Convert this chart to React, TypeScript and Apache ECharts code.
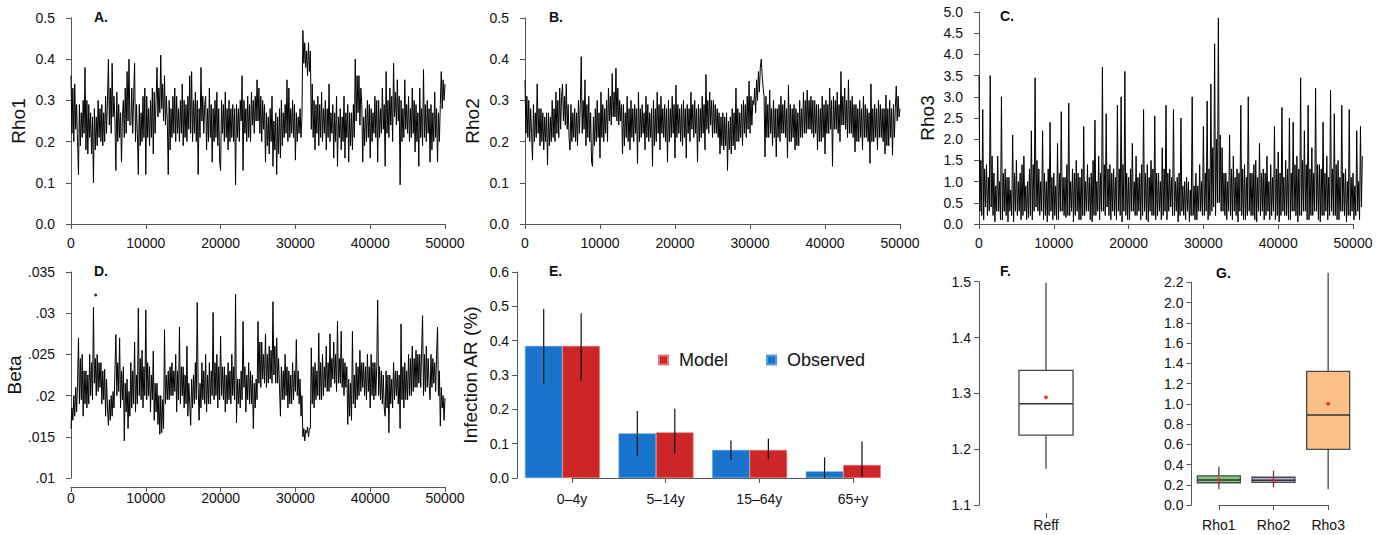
import React, { useEffect, useRef } from 'react';
import * as echarts from 'echarts';

const FONT = '"Liberation Sans", Arial, Helvetica, sans-serif';

// ---------- DATA ----------
const ITER_STEP = 125;

const rho1Trace = [
  0.36, 0.22, 0.33, 0.20, 0.34, 0.23, 0.29, 0.20, 0.12, 0.29, 0.19, 0.27, 0.21, 0.30, 0.22, 0.38,
  0.18, 0.30, 0.17, 0.29, 0.21, 0.27, 0.17, 0.26, 0.10, 0.28, 0.18, 0.26, 0.19, 0.30, 0.21, 0.28,
  0.20, 0.29, 0.19, 0.27, 0.20, 0.31, 0.22, 0.30, 0.40, 0.24, 0.33, 0.22, 0.39, 0.26, 0.31, 0.25,
  0.13, 0.32, 0.20, 0.29, 0.21, 0.27, 0.15, 0.26, 0.30, 0.21, 0.33, 0.22, 0.37, 0.25, 0.40, 0.24,
  0.24, 0.33, 0.22, 0.31, 0.39, 0.20, 0.29, 0.22, 0.12, 0.29, 0.19, 0.27, 0.20, 0.31, 0.21, 0.33,
  0.12, 0.31, 0.21, 0.28, 0.19, 0.30, 0.21, 0.33, 0.17, 0.32, 0.22, 0.30, 0.38, 0.26, 0.33, 0.27,
  0.41, 0.28, 0.34, 0.25, 0.36, 0.24, 0.31, 0.25, 0.12, 0.30, 0.18, 0.28, 0.21, 0.31, 0.22, 0.33,
  0.20, 0.31, 0.22, 0.28, 0.20, 0.30, 0.22, 0.34, 0.19, 0.30, 0.21, 0.29, 0.20, 0.31, 0.23, 0.36,
  0.22, 0.37, 0.20, 0.30, 0.22, 0.32, 0.20, 0.30, 0.12, 0.28, 0.21, 0.38, 0.25, 0.31, 0.22, 0.29,
  0.31, 0.18, 0.28, 0.20, 0.33, 0.21, 0.29, 0.15, 0.28, 0.20, 0.30, 0.21, 0.32, 0.19, 0.28, 0.15,
  0.13, 0.30, 0.22, 0.29, 0.20, 0.32, 0.21, 0.28, 0.18, 0.30, 0.20, 0.28, 0.21, 0.29, 0.20, 0.28,
  0.095, 0.29, 0.21, 0.28, 0.20, 0.30, 0.25, 0.36, 0.13, 0.30, 0.22, 0.28, 0.20, 0.31, 0.21, 0.29,
  0.20, 0.32, 0.24, 0.30, 0.22, 0.31, 0.25, 0.35, 0.25, 0.33, 0.22, 0.31, 0.20, 0.30, 0.23, 0.29,
  0.15, 0.27, 0.19, 0.26, 0.17, 0.28, 0.20, 0.31, 0.14, 0.25, 0.18, 0.27, 0.12, 0.26, 0.17, 0.28,
  0.16, 0.30, 0.19, 0.27, 0.21, 0.29, 0.22, 0.35, 0.20, 0.33, 0.21, 0.28, 0.22, 0.30, 0.21, 0.29,
  0.155, 0.27, 0.20, 0.26, 0.22, 0.28, 0.21, 0.26, 0.47, 0.39, 0.44, 0.38, 0.42, 0.36, 0.44, 0.37,
  0.42, 0.23, 0.34, 0.21, 0.30, 0.18, 0.29, 0.22, 0.31, 0.19, 0.29, 0.21, 0.32, 0.20, 0.28, 0.22,
  0.30, 0.18, 0.28, 0.21, 0.34, 0.20, 0.27, 0.22, 0.29, 0.16, 0.27, 0.20, 0.31, 0.14, 0.26, 0.21,
  0.28, 0.18, 0.26, 0.20, 0.31, 0.16, 0.27, 0.21, 0.29, 0.15, 0.27, 0.19, 0.27, 0.18, 0.29, 0.21,
  0.40, 0.25, 0.36, 0.27, 0.36, 0.24, 0.33, 0.29, 0.15, 0.26, 0.19, 0.28, 0.20, 0.30, 0.21, 0.29,
  0.16, 0.28, 0.20, 0.27, 0.22, 0.31, 0.21, 0.30, 0.15, 0.30, 0.21, 0.28, 0.22, 0.33, 0.23, 0.29,
  0.14, 0.37, 0.22, 0.30, 0.21, 0.33, 0.24, 0.31, 0.20, 0.39, 0.26, 0.32, 0.24, 0.35, 0.25, 0.31,
  0.095, 0.30, 0.20, 0.28, 0.21, 0.35, 0.23, 0.29, 0.22, 0.31, 0.20, 0.28, 0.21, 0.33, 0.22, 0.30,
  0.175, 0.29, 0.20, 0.27, 0.14, 0.33, 0.21, 0.28, 0.19, 0.375, 0.21, 0.29, 0.20, 0.30, 0.22, 0.28,
  0.15, 0.29, 0.18, 0.27, 0.20, 0.32, 0.21, 0.28, 0.15, 0.27, 0.20, 0.29, 0.37, 0.28, 0.35, 0.30,
  0.34,
];

const rho2Trace = [
  0.35, 0.22, 0.31, 0.21, 0.30, 0.20, 0.28, 0.22, 0.155, 0.29, 0.20, 0.27, 0.21, 0.34, 0.22, 0.28,
  0.19, 0.28, 0.20, 0.27, 0.18, 0.26, 0.20, 0.27, 0.143, 0.27, 0.19, 0.26, 0.20, 0.30, 0.21, 0.28,
  0.20, 0.32, 0.22, 0.30, 0.21, 0.33, 0.23, 0.31, 0.34, 0.25, 0.31, 0.24, 0.34, 0.23, 0.29, 0.21,
  0.18, 0.29, 0.20, 0.27, 0.21, 0.28, 0.20, 0.27, 0.19, 0.30, 0.22, 0.29, 0.406, 0.22, 0.30, 0.23,
  0.35, 0.19, 0.29, 0.21, 0.31, 0.20, 0.27, 0.15, 0.14, 0.26, 0.19, 0.28, 0.20, 0.30, 0.21, 0.27,
  0.16, 0.32, 0.21, 0.29, 0.20, 0.28, 0.22, 0.30, 0.20, 0.33, 0.25, 0.31, 0.24, 0.365, 0.26, 0.32,
  0.26, 0.378, 0.25, 0.33, 0.24, 0.30, 0.25, 0.29, 0.17, 0.29, 0.19, 0.27, 0.21, 0.31, 0.20, 0.28,
  0.18, 0.30, 0.21, 0.28, 0.20, 0.29, 0.22, 0.28, 0.147, 0.32, 0.20, 0.28, 0.21, 0.29, 0.22, 0.27,
  0.18, 0.31, 0.21, 0.29, 0.20, 0.27, 0.21, 0.28, 0.14, 0.30, 0.19, 0.28, 0.20, 0.32, 0.22, 0.29,
  0.18, 0.31, 0.22, 0.28, 0.21, 0.29, 0.20, 0.28, 0.15, 0.30, 0.20, 0.28, 0.21, 0.31, 0.22, 0.29,
  0.16, 0.337, 0.21, 0.29, 0.22, 0.28, 0.20, 0.29, 0.19, 0.30, 0.21, 0.28, 0.16, 0.29, 0.22, 0.28,
  0.20, 0.32, 0.23, 0.29, 0.21, 0.30, 0.22, 0.28, 0.15, 0.29, 0.20, 0.28, 0.21, 0.31, 0.22, 0.29,
  0.18, 0.363, 0.23, 0.30, 0.22, 0.32, 0.24, 0.30, 0.21, 0.30, 0.22, 0.29, 0.22, 0.28, 0.21, 0.27,
  0.17, 0.26, 0.19, 0.27, 0.18, 0.26, 0.19, 0.27, 0.13, 0.25, 0.18, 0.26, 0.17, 0.28, 0.19, 0.27,
  0.18, 0.33, 0.20, 0.28, 0.20, 0.27, 0.21, 0.29, 0.19, 0.30, 0.22, 0.29, 0.21, 0.31, 0.23, 0.347,
  0.22, 0.31, 0.24, 0.30, 0.29, 0.33, 0.27, 0.35, 0.30, 0.37, 0.32, 0.38, 0.40, 0.36, 0.33, 0.31,
  0.163, 0.31, 0.21, 0.29, 0.21, 0.325, 0.22, 0.28, 0.19, 0.30, 0.21, 0.28, 0.163, 0.28, 0.21, 0.29,
  0.20, 0.31, 0.22, 0.29, 0.22, 0.30, 0.21, 0.28, 0.16, 0.337, 0.20, 0.29, 0.20, 0.28, 0.21, 0.29,
  0.18, 0.28, 0.19, 0.27, 0.19, 0.30, 0.21, 0.28, 0.21, 0.32, 0.22, 0.30, 0.22, 0.325, 0.23, 0.30,
  0.23, 0.31, 0.22, 0.30, 0.21, 0.30, 0.22, 0.29, 0.18, 0.29, 0.20, 0.28, 0.20, 0.31, 0.21, 0.29,
  0.17, 0.30, 0.22, 0.29, 0.22, 0.33, 0.23, 0.30, 0.14, 0.31, 0.23, 0.30, 0.23, 0.32, 0.22, 0.29,
  0.20, 0.37, 0.24, 0.31, 0.24, 0.33, 0.23, 0.30, 0.21, 0.35, 0.22, 0.30, 0.22, 0.31, 0.21, 0.29,
  0.175, 0.29, 0.20, 0.28, 0.20, 0.30, 0.21, 0.28, 0.18, 0.31, 0.21, 0.29, 0.21, 0.28, 0.20, 0.27,
  0.147, 0.34, 0.20, 0.28, 0.20, 0.29, 0.21, 0.28, 0.18, 0.30, 0.21, 0.29, 0.21, 0.28, 0.20, 0.28,
  0.17, 0.313, 0.19, 0.28, 0.19, 0.30, 0.21, 0.28, 0.167, 0.29, 0.21, 0.28, 0.335, 0.25, 0.31, 0.26,
  0.28,
];

const rho3Trace = [
  3.5, 0.3, 1.5, 0.2, 2.7, 0.1, 1.3, 0.4, 1.4, 0.2, 1.1, 0.3, 3.5, 0.4, 1.6, 0.2,
  1.2, 0.05, 0.9, 0.3, 1.6, 0.3, 1.0, 0.1, 3.0, 0.1, 1.2, 0.3, 1.3, 0.2, 1.1, 0.05,
  1.1, 0.3, 0.8, 0.2, 2.1, 0.05, 1.2, 0.3, 1.5, 0.2, 1.0, 0.3, 1.2, 0.1, 1.4, 0.2,
  1.6, 0.3, 0.9, 0.1, 1.0, 0.15, 1.3, 0.2, 2.2, 0.1, 1.4, 0.3, 3.45, 0.4, 1.5, 0.3,
  1.3, 0.2, 1.0, 0.3, 2.2, 0.1, 1.2, 0.2, 1.0, 0.05, 1.3, 0.2, 2.4, 0.3, 1.1, 0.1,
  1.2, 0.2, 0.9, 0.1, 1.9, 0.1, 1.2, 0.3, 2.65, 0.3, 1.1, 0.2, 1.1, 0.15, 1.4, 0.2,
  2.85, 0.2, 1.0, 0.3, 1.3, 0.05, 1.2, 0.2, 1.5, 0.3, 1.2, 0.1, 1.1, 0.1, 1.3, 0.2,
  2.3, 0.2, 1.0, 0.3, 1.4, 0.3, 1.1, 0.1, 1.2, 0.05, 1.5, 0.2, 2.45, 0.2, 1.0, 0.3,
  1.6, 0.1, 1.2, 0.3, 3.7, 0.3, 1.4, 0.2, 2.6, 0.4, 1.3, 0.2, 1.4, 0.1, 1.2, 0.3,
  1.3, 0.2, 1.1, 0.1, 2.8, 0.3, 1.3, 0.2, 3.0, 0.05, 1.4, 0.3, 3.6, 0.2, 1.2, 0.1,
  1.1, 0.1, 1.3, 0.3, 1.9, 0.3, 1.0, 0.2, 1.6, 0.2, 1.1, 0.3, 1.2, 0.1, 1.4, 0.2,
  2.7, 0.3, 1.2, 0.1, 1.4, 0.05, 1.1, 0.3, 1.5, 0.2, 1.3, 0.2, 2.55, 0.1, 1.2, 0.2,
  1.2, 0.3, 1.0, 0.1, 1.8, 0.2, 1.3, 0.3, 2.8, 0.1, 1.2, 0.3, 1.3, 0.4, 1.1, 0.2,
  2.7, 0.2, 1.0, 0.3, 1.1, 0.05, 1.2, 0.2, 2.5, 0.3, 0.9, 0.2, 1.0, 0.1, 1.1, 0.3,
  1.0, 0.05, 0.8, 0.2, 3.0, 0.2, 0.9, 0.1, 1.2, 0.1, 0.9, 0.3, 1.4, 0.3, 1.0, 0.2,
  2.3, 0.2, 1.2, 0.3, 2.9, 0.1, 1.3, 0.2, 3.3, 0.3, 1.8, 0.4, 4.25, 0.2, 2.0, 0.5,
  4.86, 0.5, 2.1, 0.3, 1.8, 0.3, 1.2, 0.2, 1.2, 0.1, 1.0, 0.3, 2.1, 0.2, 1.3, 0.1,
  1.6, 0.3, 1.1, 0.2, 1.3, 0.05, 1.2, 0.3, 2.8, 0.2, 1.3, 0.1, 1.4, 0.1, 1.1, 0.2,
  3.0, 0.3, 1.2, 0.2, 1.2, 0.2, 1.4, 0.1, 1.5, 0.05, 1.1, 0.3, 1.9, 0.2, 1.2, 0.3,
  1.3, 0.1, 1.2, 0.2, 1.6, 0.3, 1.0, 0.1, 1.4, 0.2, 1.1, 0.3, 2.3, 0.1, 1.3, 0.2,
  1.7, 0.05, 1.2, 0.2, 2.75, 0.3, 1.1, 0.2, 1.5, 0.2, 1.3, 0.1, 2.5, 0.1, 1.2, 0.3,
  2.4, 0.3, 1.4, 0.2, 1.6, 0.05, 1.3, 0.2, 3.45, 0.2, 1.5, 0.3, 2.2, 0.3, 1.4, 0.1,
  2.8, 0.1, 1.3, 0.2, 1.8, 0.2, 1.2, 0.3, 3.2, 0.3, 1.4, 0.1, 1.4, 0.05, 1.3, 0.2,
  2.4, 0.2, 1.2, 0.3, 1.6, 0.1, 1.1, 0.2, 3.15, 0.3, 1.3, 0.2, 2.6, 0.2, 1.4, 0.1,
  1.5, 0.1, 1.1, 0.3, 2.8, 0.3, 1.2, 0.2, 1.3, 0.05, 1.0, 0.2, 2.7, 0.2, 1.1, 0.3,
  1.2, 0.1, 0.9, 0.2, 2.2, 0.3, 1.0, 0.1, 2.3, 0.4, 1.6,
];

const betaTrace = [
  0.0160, 0.0185, 0.0170, 0.0200, 0.0175, 0.0210, 0.0180, 0.0215, 0.0270, 0.0190, 0.0245, 0.0195, 0.0250, 0.0175, 0.0230, 0.0190,
  0.0230, 0.0185, 0.0225, 0.0190, 0.0250, 0.0200, 0.0240, 0.0195, 0.0307, 0.0215, 0.0245, 0.0200, 0.0250, 0.0205, 0.0240, 0.0210,
  0.0240, 0.0190, 0.0230, 0.0195, 0.0232, 0.0175, 0.0220, 0.0185, 0.0164, 0.0195, 0.0170, 0.0200, 0.0175, 0.0205, 0.0185, 0.0230,
  0.0274, 0.0200, 0.0240, 0.0205, 0.0270, 0.0185, 0.0230, 0.0195, 0.0235, 0.0145, 0.0215, 0.0180, 0.0220, 0.0160, 0.0205, 0.0175,
  0.0240, 0.0185, 0.0230, 0.0190, 0.0265, 0.0180, 0.0225, 0.0190, 0.0306, 0.0200, 0.0245, 0.0195, 0.0255, 0.0185, 0.0235, 0.0200,
  0.0304, 0.0195, 0.0240, 0.0200, 0.0235, 0.0180, 0.0225, 0.0195, 0.0254, 0.0170, 0.0215, 0.0180, 0.0215, 0.0165, 0.0200, 0.0153,
  0.0200, 0.0155, 0.0195, 0.0160, 0.0280, 0.0190, 0.0225, 0.0195, 0.0230, 0.0195, 0.0235, 0.0200, 0.0240, 0.0200, 0.0230, 0.0205,
  0.0250, 0.0180, 0.0230, 0.0195, 0.0283, 0.0190, 0.0235, 0.0200, 0.0235, 0.0185, 0.0225, 0.0190, 0.0260, 0.0175, 0.0215, 0.0190,
  0.0164, 0.0220, 0.0185, 0.0225, 0.0190, 0.0240, 0.0195, 0.0313, 0.0210, 0.0170, 0.0215, 0.0185, 0.0240, 0.0195, 0.0230, 0.0190,
  0.0250, 0.0180, 0.0225, 0.0190, 0.0240, 0.0190, 0.0230, 0.0200, 0.0301, 0.0195, 0.0240, 0.0200, 0.0250, 0.0185, 0.0235, 0.0195,
  0.0272, 0.0200, 0.0235, 0.0195, 0.0235, 0.0180, 0.0225, 0.0190, 0.0240, 0.0195, 0.0230, 0.0190, 0.0250, 0.0200, 0.0235, 0.0195,
  0.0323, 0.0167, 0.0220, 0.0190, 0.0220, 0.0185, 0.0230, 0.0195, 0.0290, 0.0210, 0.0235, 0.0180, 0.0225, 0.0195, 0.0240, 0.0190,
  0.0230, 0.0190, 0.0225, 0.0160, 0.0215, 0.0185, 0.0220, 0.0195, 0.0290, 0.0215, 0.0265, 0.0210, 0.0265, 0.0220, 0.0250, 0.0215,
  0.0275, 0.0210, 0.0250, 0.0215, 0.0260, 0.0220, 0.0255, 0.0215, 0.0314, 0.0225, 0.0260, 0.0215, 0.0270, 0.0215, 0.0245, 0.0210,
  0.0175, 0.0235, 0.0195, 0.0230, 0.0195, 0.0250, 0.0200, 0.0235, 0.0185, 0.0230, 0.0190, 0.0225, 0.0190, 0.0240, 0.0195, 0.0230,
  0.0205, 0.0268, 0.0200, 0.0230, 0.0190, 0.0220, 0.0175, 0.0200, 0.0150, 0.0160, 0.0145, 0.0158, 0.0155, 0.0162, 0.0150, 0.0160,
  0.0160, 0.0258, 0.0190, 0.0235, 0.0185, 0.0240, 0.0195, 0.0230, 0.0200, 0.0276, 0.0195, 0.0240, 0.0195, 0.0250, 0.0200, 0.0235,
  0.0210, 0.0260, 0.0205, 0.0240, 0.0205, 0.0275, 0.0210, 0.0245, 0.0220, 0.0265, 0.0215, 0.0250, 0.0205, 0.0290, 0.0215, 0.0245,
  0.0215, 0.0278, 0.0210, 0.0245, 0.0200, 0.0240, 0.0210, 0.0235, 0.0165, 0.0220, 0.0175, 0.0215, 0.0170, 0.0278, 0.0190, 0.0225,
  0.0185, 0.0240, 0.0195, 0.0235, 0.0200, 0.0255, 0.0205, 0.0240, 0.0210, 0.0240, 0.0200, 0.0235, 0.0195, 0.0250, 0.0205, 0.0235,
  0.0185, 0.0250, 0.0200, 0.0240, 0.0195, 0.0240, 0.0200, 0.0235, 0.0316, 0.0200, 0.0235, 0.0195, 0.0230, 0.0190, 0.0225, 0.0185,
  0.0175, 0.0230, 0.0185, 0.0225, 0.0155, 0.0225, 0.0190, 0.0220, 0.0185, 0.0240, 0.0195, 0.0230, 0.0200, 0.0230, 0.0190, 0.0225,
  0.0160, 0.0287, 0.0195, 0.0235, 0.0185, 0.0240, 0.0195, 0.0230, 0.0195, 0.0250, 0.0200, 0.0245, 0.0200, 0.0260, 0.0205, 0.0245,
  0.0210, 0.0255, 0.0210, 0.0250, 0.0215, 0.0250, 0.0210, 0.0255, 0.0297, 0.0200, 0.0250, 0.0205, 0.0260, 0.0210, 0.0245, 0.0215,
  0.0195, 0.0250, 0.0210, 0.0245, 0.0215, 0.0240, 0.0205, 0.0250, 0.0283, 0.0200, 0.0230, 0.0163, 0.0210, 0.0185, 0.0200, 0.0170,
  0.0197,
];
const betaOutlier = [3300, 0.0322];

const ageGroups = ['0–4y', '5–14y', '15–64y', '65+y'];
const observedAR = [0.3845, 0.130, 0.0816, 0.0194];
const observedLo = [0.274, 0.065, 0.0524, 0.0];
const observedHi = [0.492, 0.195, 0.109, 0.060];
const modelAR = [0.3845, 0.133, 0.0816, 0.038];
const modelLo = [0.283, 0.072, 0.0553, 0.004];
const modelHi = [0.480, 0.202, 0.1145, 0.106];

const reffLabel = ['Reff'];
const reffStats = [1.165, 1.225, 1.2815, 1.341, 1.498]; // min, q1, median, q3, max
const reffMean = 1.293;

const rhoBoxLabels = ['Rho1', 'Rho2', 'Rho3'];
const rhoStats = [
  [0.155, 0.22, 0.247, 0.287, 0.378],
  [0.175, 0.224, 0.245, 0.274, 0.339],
  [0.155, 0.55, 0.889, 1.321, 2.295],
];
const rhoMeans = [0.25, 0.245, 1.0];
const rhoColors = ['#7FC97F', '#BEAED4', '#FDC086'];

// ---------- STYLE ----------
const AXIS_COLOR = '#555';
const TEXT_COLOR = '#111';
const BLUE = '#1874CD';
const RED = '#CD2626';

const axisLine = { show: true, lineStyle: { color: AXIS_COLOR, width: 1 } };
const axisTick = { show: true, length: 5, lineStyle: { color: AXIS_COLOR, width: 1 } };
const label = (extra: any = {}) => ({ color: TEXT_COLOR, fontSize: 14, fontFamily: FONT, ...extra });
const nameStyle = { fontSize: 19, color: TEXT_COLOR, fontFamily: FONT };
const noSplit = { show: false };

const toPts = (arr: number[]) => arr.map((v, i) => [i * ITER_STEP, v]);

const traceX = (grid: number, extra: any = {}) => ({
  gridIndex: grid, type: 'value', min: 0, max: 50000, interval: 10000, offset: 8,
  axisLine, axisTick, splitLine: noSplit,
  axisLabel: label({ margin: 4, formatter: (v: number) => String(v) }),
  ...extra,
});
const valueY = (grid: number, min: number, max: number, interval: number, fmt: (v: number) => string, extra: any = {}) => ({
  gridIndex: grid, type: 'value', min, max, interval, offset: 8,
  axisLine, axisTick, splitLine: noSplit,
  axisLabel: label({ margin: 8, formatter: fmt }),
  ...extra,
});
const hiddenValue = (grid: number, min = 0, max = 1) => ({ gridIndex: grid, type: 'value', min, max, show: false });
const f1 = (v: number) => v.toFixed(1);
const fBeta = (v: number) => String(+v.toFixed(3)).replace(/^0/, '');

function boxRenderer(frac: number, colors: string[]) {
  return (params: any, api: any) => {
    const idx = api.value(0);
    const lo = api.coord([idx, api.value(1)]);
    const q1 = api.coord([idx, api.value(2)]);
    const med = api.coord([idx, api.value(3)]);
    const q3 = api.coord([idx, api.value(4)]);
    const hi = api.coord([idx, api.value(5)]);
    const bw = api.size([1, 0])[0] * frac;
    const x = med[0];
    const stroke = { stroke: '#4a4a4a', lineWidth: 1.3 };
    return {
      type: 'group',
      children: [
        { type: 'line', shape: { x1: x, y1: hi[1], x2: x, y2: q3[1] }, style: stroke },
        { type: 'line', shape: { x1: x, y1: q1[1], x2: x, y2: lo[1] }, style: stroke },
        { type: 'rect', shape: { x: x - bw / 2, y: q3[1], width: bw, height: q1[1] - q3[1] }, style: { ...stroke, fill: colors[idx] } },
        { type: 'line', shape: { x1: x - bw / 2, y1: med[1], x2: x + bw / 2, y2: med[1] }, style: { stroke: '#333', lineWidth: 1.5 } },
      ],
    };
  };
}

function errRenderer(params: any, api: any) {
  const x = api.value(0);
  const a = api.coord([x, api.value(1)]);
  const b = api.coord([x, api.value(2)]);
  return { type: 'line', shape: { x1: a[0], y1: a[1], x2: b[0], y2: b[1] }, style: { stroke: '#111', lineWidth: 1.2 } };
}

// bar positions (R barplot layout: width 1, space 0.5 between groups)
const GROUP_STEP = 2.5;
const observedX = ageGroups.map((_, g) => 1 + g * GROUP_STEP);
const modelX = ageGroups.map((_, g) => 2 + g * GROUP_STEP);

const panelLabels = [
  { t: 'A.', left: 94, top: 10 },
  { t: 'B.', left: 549, top: 10 },
  { t: 'C.', left: 1000, top: 9 },
  { t: 'D.', left: 94, top: 264 },
  { t: 'E.', left: 549, top: 264 },
  { t: 'F.', left: 1000, top: 264 },
  { t: 'G.', left: 1216, top: 266 },
];

const lineSeries = (name: string, arr: number[], grid: number) => ({
  name, type: 'line', xAxisIndex: grid, yAxisIndex: grid, data: toPts(arr),
  showSymbol: false, symbol: 'none', lineStyle: { color: '#000', width: 1 }, silent: true,
});

const option: any = {
  animation: false,
  textStyle: { fontFamily: FONT },
  title: panelLabels.map((p) => ({
    text: p.t, left: p.left, top: p.top, padding: 0,
    textStyle: { fontSize: 14, fontWeight: 'bold', color: TEXT_COLOR, fontFamily: FONT },
  })),
  legend: {
    left: 653, top: 346, itemWidth: 9, itemHeight: 9, itemGap: 38, icon: 'rect',
    data: ['Model', 'Observed'],
    textStyle: { fontSize: 18, color: TEXT_COLOR, fontFamily: FONT, padding: [0, 0, 0, 6] },
  },
  grid: [
    { left: 71, top: 18, width: 374, height: 206 }, // 0 A
    { left: 525, top: 18, width: 375, height: 206 }, // 1 B
    { left: 979, top: 12, width: 374 * 51300 / 50000, height: 212 }, // 2 C data
    { left: 979, top: 223, width: 374, height: 1 }, // 3 C x axis
    { left: 71, top: 272, width: 374, height: 206 }, // 4 D
    { left: 517.1, top: 272, width: 9.91 * 37.45, height: 206 }, // 5 E data
    { left: 572, top: 477, width: 281, height: 1 }, // 6 E x axis
    { left: 987, top: 281.7, width: 118, height: 223.3 }, // 7 F
    { left: 1191.5, top: 282.3, width: 164, height: 222.7 }, // 8 G data
    { left: 1218.8, top: 504, width: 109.4, height: 1 }, // 9 G x axis
  ],
  xAxis: [
    traceX(0),
    traceX(1),
    hiddenValue(2, 0, 51300),
    traceX(3),
    traceX(4, { offset: 9 }),
    hiddenValue(5, 0.29, 10.2),
    {
      gridIndex: 6, type: 'value', min: 0, max: 3, interval: 1, offset: 9,
      axisLine, axisTick, splitLine: noSplit,
      axisLabel: label({ margin: 5, formatter: (v: number) => ageGroups[v] ?? '' }),
    },
    {
      gridIndex: 7, type: 'category', data: reffLabel, offset: 8,
      axisLine: { show: false }, axisTick: { ...axisTick, alignWithLabel: true },
      axisLabel: label({ margin: 5 }), splitLine: noSplit,
    },
    { gridIndex: 8, type: 'category', data: rhoBoxLabels, show: false },
    {
      gridIndex: 9, type: 'value', min: 0, max: 2, interval: 1, offset: 8,
      axisLine, axisTick, splitLine: noSplit,
      axisLabel: label({ margin: 5, formatter: (v: number) => rhoBoxLabels[v] ?? '' }),
    },
  ],
  yAxis: [
    valueY(0, 0, 0.5, 0.1, f1, { name: 'Rho1', nameLocation: 'middle', nameGap: 35, nameTextStyle: nameStyle }),
    valueY(1, 0, 0.5, 0.1, f1, { name: 'Rho2', nameLocation: 'middle', nameGap: 35, nameTextStyle: nameStyle }),
    valueY(2, 0, 5, 0.5, f1, { name: 'Rho3', nameLocation: 'middle', nameGap: 34, nameTextStyle: nameStyle }),
    hiddenValue(3),
    valueY(4, 0.01, 0.035, 0.005, fBeta, { name: 'Beta', nameLocation: 'middle', nameGap: 35, nameTextStyle: nameStyle }),
    valueY(5, 0, 0.6, 0.1, f1, { offset: 0, name: 'Infection AR (%)', nameLocation: 'middle', nameGap: 37, nameTextStyle: nameStyle }),
    hiddenValue(6),
    valueY(7, 1.1, 1.5, 0.1, f1),
    valueY(8, 0, 2.2, 0.2, f1, { offset: 0 }),
    hiddenValue(9),
  ],
  series: [
    lineSeries('Rho1', rho1Trace, 0),
    lineSeries('Rho2', rho2Trace, 1),
    lineSeries('Rho3', rho3Trace, 2),
    lineSeries('Beta', betaTrace, 4),
    {
      type: 'scatter', xAxisIndex: 4, yAxisIndex: 4, data: [betaOutlier], symbolSize: 3,
      itemStyle: { color: '#000' }, silent: true,
    },
    {
      name: 'Observed', type: 'bar', xAxisIndex: 5, yAxisIndex: 5, barWidth: 37.45, barGap: '-100%',
      data: observedX.map((x, i) => [x, observedAR[i]]),
      itemStyle: { color: BLUE, borderColor: '#5a9be0', borderWidth: 0.6 },
    },
    {
      name: 'Model', type: 'bar', xAxisIndex: 5, yAxisIndex: 5, barWidth: 37.45, barGap: '-100%',
      data: modelX.map((x, i) => [x, modelAR[i]]),
      itemStyle: { color: RED, borderColor: '#e07a7a', borderWidth: 0.6 },
    },
    {
      type: 'custom', xAxisIndex: 5, yAxisIndex: 5, z: 5, renderItem: errRenderer,
      data: [
        ...observedX.map((x, i) => [x, observedLo[i], observedHi[i]]),
        ...modelX.map((x, i) => [x, modelLo[i], modelHi[i]]),
      ],
      silent: true,
    },
    {
      type: 'custom', xAxisIndex: 7, yAxisIndex: 7, renderItem: boxRenderer(0.458, ['#ffffff']),
      data: [[0, ...reffStats]], silent: true,
    },
    {
      type: 'scatter', xAxisIndex: 7, yAxisIndex: 7, z: 5, data: [[0, reffMean]], symbolSize: 4,
      itemStyle: { color: '#e41a1c' }, silent: true,
    },
    {
      type: 'custom', xAxisIndex: 8, yAxisIndex: 8, renderItem: boxRenderer(0.787, rhoColors),
      data: rhoStats.map((s, i) => [i, ...s]), silent: true,
    },
    {
      type: 'scatter', xAxisIndex: 8, yAxisIndex: 8, z: 5, data: rhoMeans.map((m, i) => [i, m]), symbolSize: 4,
      itemStyle: { color: '#e41a1c' }, silent: true,
    },
  ],
};

export default function App() {
  const ref = useRef<HTMLDivElement>(null);
  useEffect(() => {
    document.body.style.margin = '0';
    const chart = echarts.init(ref.current!, null, { renderer: 'svg' });
    chart.setOption(option);
    return () => chart.dispose();
  }, []);
  return <div ref={ref} style={{ width: 1384, height: 535 }} />;
}
